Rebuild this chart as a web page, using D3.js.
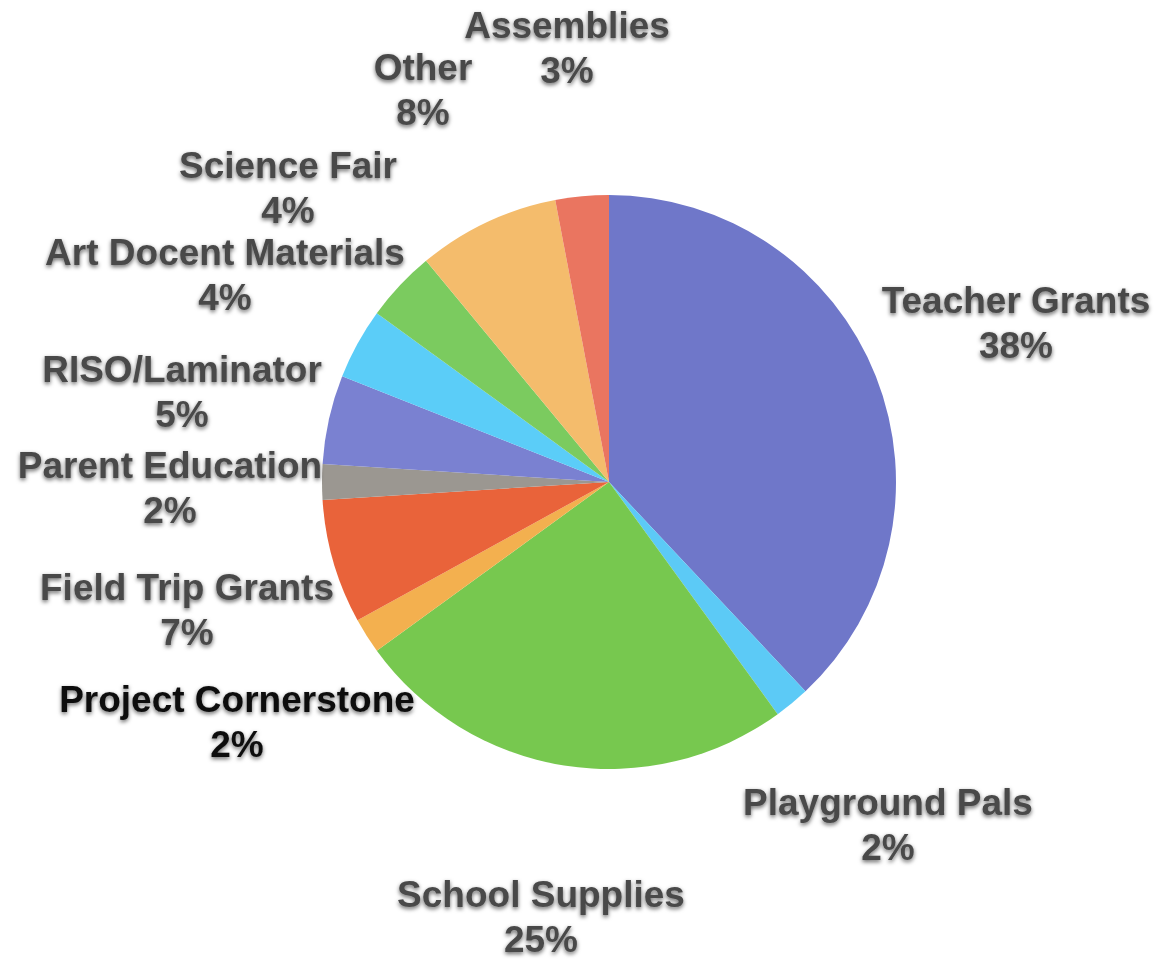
<!DOCTYPE html>
<html>
<head>
<meta charset="utf-8">
<script src="https://cdn.jsdelivr.net/npm/d3@7"></script>
<style>
  body { margin: 0; background: #fff; }
  svg text { font-family: "Liberation Sans", Arial, sans-serif; font-weight: bold; }
</style>
</head>
<body>
<div id="chart"></div>
<script>
// slices clockwise from 12 o'clock
var categories = ["Teacher Grants", "Playground Pals", "School Supplies", "Project Cornerstone",
  "Field Trip Grants", "Parent Education", "RISO/Laminator", "Art Docent Materials",
  "Science Fair", "Other", "Assemblies"];
var values = [38, 2, 25, 2, 7, 2, 5, 4, 4, 8, 3];
var colors = ["#6f77c9", "#5ccaf6", "#77c84f", "#f3b04f", "#e9633a", "#9b9791",
  "#7a81d1", "#5bcdf8", "#7bcb5f", "#f4bc6c", "#ea7560"];

// hand placed label anchors (center x, first baseline y), like the original
var labelPos = [[1016, 313], [888, 815], [541, 907], [237, 712], [187, 600], [170, 478],
  [182, 382], [225, 265], [288, 178], [423, 80], [567, 38]];

var width = 1159, height = 962,
    cx = 609, cy = 482, radius = 287;

var svg = d3.select("#chart")
  .append("svg")
    .attr("width", width)
    .attr("height", height);

var defs = svg.append("defs");
var f = defs.append("filter").attr("id", "shadow")
  .attr("x", "-10%").attr("y", "-30%").attr("width", "120%").attr("height", "160%");
f.append("feDropShadow")
  .attr("dx", 0).attr("dy", 2)
  .attr("stdDeviation", 2.2)
  .attr("flood-color", "#000")
  .attr("flood-opacity", 0.6);

var pie = d3.pie().sort(null).value(function(d) { return d; });
var arc = d3.arc().innerRadius(0).outerRadius(radius);

var g = svg.append("g").attr("transform", "translate(" + cx + "," + cy + ")");

g.selectAll("path")
  .data(pie(values))
  .enter()
  .append("path")
    .attr("d", arc)
    .style("fill", function(d, i) { return colors[i]; });

var labels = svg.append("g").attr("filter", "url(#shadow)")
  .selectAll("text")
  .data(categories)
  .enter()
  .append("text")
    .attr("text-anchor", "middle")
    .attr("x", function(d, i) { return labelPos[i][0]; })
    .attr("y", function(d, i) { return labelPos[i][1]; })
    .style("font-size", "37px")
    .style("fill", function(d) { return d == "Project Cornerstone" ? "#111" : "#4a4a4a"; });

labels.append("tspan")
  .attr("x", function(d, i) { return labelPos[i][0]; })
  .text(function(d) { return d; });
labels.append("tspan")
  .attr("x", function(d, i) { return labelPos[i][0]; })
  .attr("dy", 45)
  .text(function(d, i) { return values[i] + "%"; });
</script>
</body>
</html>
